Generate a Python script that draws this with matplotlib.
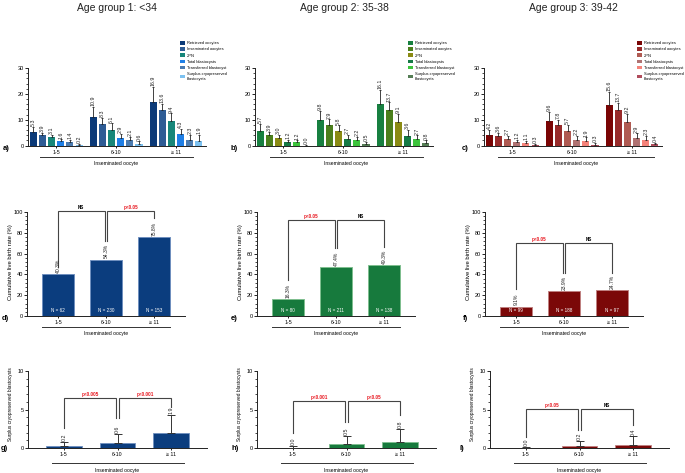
import matplotlib
matplotlib.use("Agg")
import matplotlib.pyplot as plt
from matplotlib.ticker import MultipleLocator
from matplotlib.lines import Line2D
from matplotlib.transforms import blended_transform_factory
import numpy as np

plt.rcParams['font.family'] = ['Liberation Sans', 'DejaVu Sans']

# ---------------- data ----------------
titles = ["Age group 1: <34", "Age group 2: 35-38", "Age group 3: 39-42"]
categories = ["1-5", "6-10", "\u2265 11"]
series_names = ["Retrieved oocytes", "Inseminated oocytes", "2PN", "Total blastocysts",
                "Transferred blastocyst", "Surplus cryopreserved\nblastocysts"]
xlabel_text = "Inseminated oocyte"

# top row: one list per series, values for the 3 oocyte groups
a_means = [[5.3, 10.9, 16.9], [3.9, 8.3, 13.6], [3.1, 6.1, 9.4],
           [1.6, 2.9, 4.3], [1.4, 2.1, 2.3], [0.2, 0.6, 1.9]]
a_errs = [[1.9, 4.0, 5.8], [1.0, 2.4, 2.6], [0.9, 2.5, 3.0],
          [0.8, 1.6, 2.0], [0.9, 1.2, 1.7], [0.5, 1.0, 2.3]]
b_means = [[5.7, 9.8, 16.1], [3.9, 7.9, 13.7], [3.0, 5.8, 9.1],
           [1.2, 2.7, 3.6], [1.2, 2.2, 2.7], [0.0, 0.5, 0.8]]
b_errs = [[2.6, 3.6, 5.5], [1.4, 2.2, 3.0], [1.1, 2.0, 3.2],
          [0.9, 1.5, 2.3], [0.8, 1.2, 1.2], [0.3, 0.8, 1.2]]
c_means = [[4.2, 9.6, 15.6], [3.6, 7.8, 13.7], [2.7, 5.7, 9.2],
           [1.2, 2.2, 2.9], [1.1, 1.9, 2.3], [0.3, 0.3, 0.4]]
c_errs = [[1.8, 3.4, 5.2], [1.2, 2.1, 2.8], [1.0, 2.2, 3.0],
          [0.9, 1.4, 1.8], [0.8, 1.2, 1.5], [0.3, 0.6, 0.6]]

# middle row: cumulative live birth rate (%)
d_rates = [40.3, 54.3, 75.8]
d_n = [62, 230, 153]
e_rates = [16.3, 47.4, 49.3]
e_n = [80, 211, 138]
f_rates = [9.1, 23.9, 24.7]
f_n = [99, 188, 97]
d_sig = ["NS", "p<0.05"]
e_sig = ["p<0.05", "NS"]
f_sig = ["p<0.05", "NS"]

# bottom row: surplus cryopreserved blastocysts
g_means = [0.2, 0.6, 1.9]
g_errs = [0.6, 1.2, 2.4]
h_means = [0.0, 0.5, 0.8]
h_errs = [0.25, 1.1, 1.7]
i_means = [0.0, 0.2, 0.4]
i_errs = [0.1, 0.7, 1.1]
g_sig = ["p<0.005", "p<0.001"]
h_sig = ["p<0.001", "p<0.05"]
i_sig = ["p<0.05", "NS"]

# ---------------- styles ----------------
blue_cols = ["#0b3a78", "#2e5c95", "#17877a", "#1f7fe6", "#4b7bb0", "#7cc1f0"]
green_cols = ["#178040", "#4b7f1c", "#8a8a12", "#157a45", "#3cc43c", "#557d55"]
red_cols = ["#7a0505", "#982a2a", "#b05a52", "#b07272", "#f5837a", "#b04c5c"]
main_cols = ["#0b3d7e", "#177a3d", "#7b0808"]
edge_cols = ["#6f8fbf", "#7fbf8f", "#c08080"]
sig_red = "#e8141c"

W, H = 685, 473
fig = plt.figure(figsize=(W / 100, H / 100), dpi=100)


def add_ax(x0, x1, ytop, ybot):
    return fig.add_axes([x0 / W, 1 - ybot / H, (x1 - x0) / W, (ybot - ytop) / H])


def style_ax(ax, major, minor, ymax):
    for s in ["top", "right"]:
        ax.spines[s].set_visible(False)
    for s in ["left", "bottom"]:
        ax.spines[s].set_linewidth(0.7)
        ax.spines[s].set_color("#222222")
    ax.set_ylim(0, ymax)
    ax.yaxis.set_major_locator(MultipleLocator(major))
    ax.yaxis.set_minor_locator(MultipleLocator(minor))
    ax.tick_params(axis="y", which="major", length=2, width=0.6, labelsize=4.0, pad=1)
    ax.tick_params(axis="y", which="minor", length=1.2, width=0.5)
    ax.tick_params(axis="x", which="major", length=1.5, width=0.6, labelsize=3.8, pad=1.5)
    ax.set_xticks(range(3))
    ax.set_xticklabels(categories)


def xbracket(ax, x0, x1, y_line, y_text):
    tr = blended_transform_factory(ax.transData, fig.transFigure)
    fig.add_artist(Line2D([x0, x1], [1 - y_line / H, 1 - y_line / H], transform=tr,
                          color="#333333", lw=0.7))
    ax.text((x0 + x1) / 2, 1 - y_text / H, xlabel_text, transform=tr,
            ha="center", va="center", fontsize=3.6)


def sig_bracket(ax, x0, x1, top, leg0, leg1, label, ltxt):
    ax.plot([x0, x0, x1, x1], [leg0, top, top, leg1], color="#444444", lw=0.8,
            solid_joinstyle="miter", clip_on=False)
    col = sig_red if label.startswith("p") else "black"
    ax.text((x0 + x1) / 2, top + ltxt, label, ha="center", va="bottom",
            fontsize=3.3, fontweight="bold", color=col)


# ---------------- top row ----------------
top_specs = [(28, "a)", 3, a_means, a_errs, blue_cols, 180, 40, 193),
             (255, "b)", 231, b_means, b_errs, green_cols, 408, 270, 423),
             (484, "c)", 462, c_means, c_errs, red_cols, 637, 498, 654)]
for k, (x0, lab, labx, means, errs, cols, legx, lx0, lx1) in enumerate(top_specs):
    ax = add_ax(x0, x0 + 178, 68, 145.5)
    style_ax(ax, 10, 2, 30)
    ax.set_xlim(-0.47, 2.5)
    offs = (np.arange(6) - 2.5) * 0.153
    x = np.arange(3)
    for s in range(6):
        ax.bar(x + offs[s], means[s], width=0.118, color=cols[s], label=series_names[s],
               zorder=2)
        ax.errorbar(x + offs[s], means[s], yerr=[[0, 0, 0], errs[s]], fmt="none",
                    ecolor="#222222", elinewidth=0.6, capsize=1.0, capthick=0.6, zorder=3)
        for g in range(3):
            ax.text(x[g] + offs[s], means[s][g] + errs[s][g] + 0.3, f"{means[s][g]:.1f}",
                    rotation=90, ha="center", va="bottom", fontsize=3.8, color="#222222")
    ax.legend(loc="upper left", bbox_to_anchor=(legx / W, 1 - 41 / H),
              bbox_transform=fig.transFigure, frameon=False, fontsize=2.9,
              handlelength=1.2, handleheight=1.0, labelspacing=0.5, handletextpad=0.5,
              borderpad=0, borderaxespad=0)
    fig.text(labx / W, 1 - 149 / H, lab, fontsize=5.5, fontweight="bold", va="center")
    fig.text((x0 + 89) / W, 1 - 8 / H, titles[k], fontsize=7.5, ha="center", va="center",
             color="#222222")
    xbracket(ax, (lx0 - x0) / 60 - 0.47, (lx1 - x0) / 60 - 0.47, 157, 163)

# ---------------- middle row ----------------
mid_specs = [(27, "d)", 2, d_rates, d_n, d_sig, 101, [47, 72, 72, 94], 0),
             (257, "e)", 231, e_rates, e_n, e_sig, 92, [35, 65, 65, 66], 1),
             (485, "f)", 463, f_rates, f_n, f_sig, 70, [26, 41, 41, 41], 2)]
for x0, lab, labx, rates, ns, sig, top, legs, ci in mid_specs:
    ax = add_ax(x0, x0 + 158, 212, 316)
    style_ax(ax, 20, 4, 100)
    ax.set_xlim(-0.65, 2.65)
    x = np.arange(3)
    ax.bar(x, rates, width=0.66, color=main_cols[ci], edgecolor=edge_cols[ci],
           linewidth=0.7, zorder=2)
    for g in range(3):
        ax.text(x[g], rates[g] + 1.0, f"{rates[g]:.1f}%", rotation=90, ha="center",
                va="bottom", fontsize=3.6, color="#222222")
        ax.text(x[g], 5, f"N = {ns[g]}", ha="center", va="center", fontsize=3.3,
                color="white")
    sig_bracket(ax, 0, 0.97, top, legs[0], legs[1], sig[0], 1.0)
    sig_bracket(ax, 1.03, 2, top, legs[2], legs[3], sig[1], 1.0)
    ax.set_ylabel("Cumulative live birth rate (%)", fontsize=4.2)
    ax.yaxis.set_label_coords(-0.09, 0.52)
    fig.text(labx / W, 1 - 318 / H, lab, fontsize=5.5, fontweight="bold", va="center")
    tr = blended_transform_factory(ax.transData, fig.transFigure)
    fig.add_artist(Line2D([-0.33, 2.33], [1 - 327 / H] * 2, transform=tr,
                          color="#333333", lw=0.7))
    ax.text(1, 1 - 333 / H, xlabel_text, transform=tr, ha="center", va="center",
            fontsize=3.6)

# ---------------- bottom row ----------------
bot_specs = [(28, "g)", 1, g_means, g_errs, g_sig, 6.5, [2.6, 3.9, 3.9, 5.3], 0),
             (257, "h)", 231, h_means, h_errs, h_sig, 6.1, [1.9, 3.4, 3.4, 4.3], 1),
             (490, "i)", 460, i_means, i_errs, i_sig, 5.1, [1.4, 2.4, 2.4, 3.0], 2)]
for x0, lab, labx, means, errs, sig, top, legs, ci in bot_specs:
    ax = add_ax(x0, x0 + 179, 371, 448)
    style_ax(ax, 5, 1, 10)
    ax.set_xlim(-0.67, 2.67)
    x = np.arange(3)
    ax.bar(x, means, width=0.67, color=main_cols[ci], edgecolor=edge_cols[ci],
           linewidth=0.6, zorder=2)
    ax.errorbar(x, means, yerr=[[0, 0, 0], errs], fmt="none", ecolor="#333333",
                elinewidth=0.7, capsize=3, capthick=0.7, zorder=3)
    for g in range(3):
        ax.text(x[g], means[g] + errs[g] + 0.1, f"{means[g]:.1f}", rotation=90,
                ha="center", va="bottom", fontsize=3.8, color="#222222")
    sig_bracket(ax, 0, 0.97, top, legs[0], legs[1], sig[0], 0.1)
    sig_bracket(ax, 1.03, 2, top, legs[2], legs[3], sig[1], 0.1)
    ax.set_ylabel("Surplus cryopreserved blastocysts", fontsize=3.4)
    ax.yaxis.set_label_coords(-0.085, 0.57)
    fig.text(labx / W, 1 - 448 / H, lab, fontsize=5.5, fontweight="bold", va="center")
    tr = blended_transform_factory(ax.transData, fig.transFigure)
    fig.add_artist(Line2D([-0.22, 2.25], [1 - 463 / H] * 2, transform=tr,
                          color="#333333", lw=0.7))
    ax.text(1, 1 - 470 / H, xlabel_text, transform=tr, ha="center", va="center",
            fontsize=3.6)

fig.savefig("out.png", dpi=100, facecolor="white")
